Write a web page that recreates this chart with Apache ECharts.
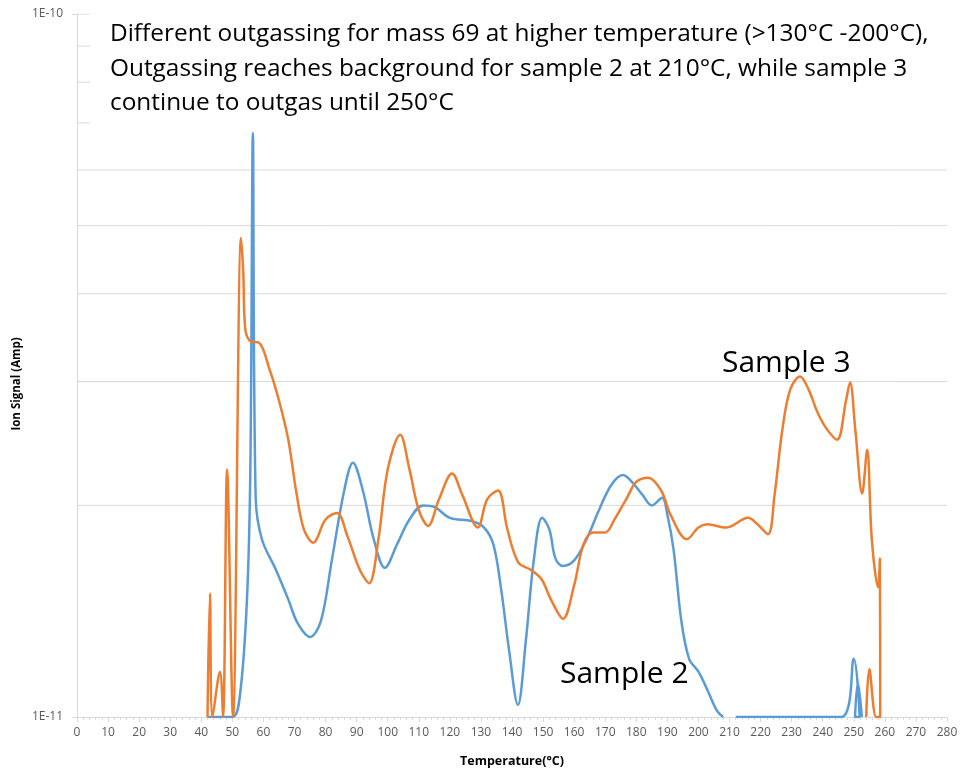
<!DOCTYPE html>
<html>
<head>
<meta charset="utf-8">
<script src="https://cdn.jsdelivr.net/npm/echarts@6/dist/echarts.min.js"></script>
<style>
html,body{margin:0;padding:0;background:#fff;}
#chart{width:960px;height:771px;}
</style>
</head>
<body>
<div id="chart"></div>
<script>
// ---- data ----
const xTicks = [0,10,20,30,40,50,60,70,80,90,100,110,120,130,140,150,160,170,180,190,200,210,220,230,240,250,260,270,280];
const yTickLabels = ['1E-11','1E-10'];
const gridValues = [2e-11,3e-11,4e-11,5e-11,6e-11,7e-11,8e-11,9e-11,1e-10];

const sample2Temp = [42,50,52.5,54.7,55.8,56.6,57.5,59.5,64,68,71,75,78.5,82,86,88.8,92,95.5,99.1,103,107,111.4,115,120,127,131,134,136.5,139,141.9,144.5,147,149.7,152,154,156.4,160,164,168,172,175.7,179,182,185,188.3,190,192,194.5,197,200,203,206,208,null,212,246,250,251.9,250.4,251.3,252.6];
const sample2Signal = [1.0e-11,1.0e-11,1.08e-11,1.47e-11,2.27e-11,6.77e-11,2.05e-11,1.79e-11,1.62e-11,1.47e-11,1.36e-11,1.30e-11,1.37e-11,1.67e-11,2.10e-11,2.30e-11,2.10e-11,1.79e-11,1.63e-11,1.76e-11,1.91e-11,2.00e-11,1.99e-11,1.92e-11,1.90e-11,1.86e-11,1.76e-11,1.52e-11,1.25e-11,1.04e-11,1.29e-11,1.67e-11,1.92e-11,1.85e-11,1.68e-11,1.64e-11,1.67e-11,1.79e-11,1.97e-11,2.14e-11,2.21e-11,2.15e-11,2.07e-11,2.00e-11,2.05e-11,1.94e-11,1.73e-11,1.37e-11,1.21e-11,1.16e-11,1.09e-11,1.02e-11,1.0e-11,null,1.0e-11,1.0e-11,1.21e-11,1.0e-11,1.0e-11,1.12e-11,1.0e-11];

const sample3Temp = [42,42.8,43.6,46,47,48.3,50.2,52.8,53.5,54.2,56,58.5,62,65,68,70.5,73,76,80,83.7,87,91,94,97,100,104,107,110,113,116.5,120.7,124,129,132,135.5,138.5,142,146,149.5,152.5,156.4,160,163,166,170,173,177,180,183.8,188,191,196.3,200,202.8,209,216,219,222.4,224.5,227,229.5,232.7,235.5,238.2,241,244.6,247.5,248.8,250.5,252.7,254.3,255.8,257.8,258.4,258.5,257.2,255,254];
const sample3Signal = [1.0e-11,1.50e-11,1.0e-11,1.16e-11,1.0e-11,2.25e-11,1.0e-11,4.80e-11,4.3e-11,3.55e-11,3.42e-11,3.41e-11,3.12e-11,2.82e-11,2.48e-11,2.10e-11,1.85e-11,1.77e-11,1.91e-11,1.95e-11,1.81e-11,1.62e-11,1.55e-11,1.79e-11,2.25e-11,2.52e-11,2.25e-11,1.97e-11,1.87e-11,2.04e-11,2.22e-11,2.07e-11,1.86e-11,2.04e-11,2.10e-11,1.85e-11,1.66e-11,1.62e-11,1.57e-11,1.47e-11,1.38e-11,1.54e-11,1.76e-11,1.83e-11,1.83e-11,1.91e-11,2.05e-11,2.16e-11,2.19e-11,2.10e-11,1.94e-11,1.79e-11,1.86e-11,1.88e-11,1.86e-11,1.92e-11,1.88e-11,1.82e-11,2.07e-11,2.56e-11,2.92e-11,3.05e-11,2.92e-11,2.72e-11,2.58e-11,2.48e-11,2.82e-11,2.99e-11,2.56e-11,2.08e-11,2.40e-11,1.79e-11,1.53e-11,1.68e-11,1.0e-11,1.0e-11,1.17e-11,1.0e-11];

const titleLines = [
  'Different outgassing for mass 69 at higher temperature (>130°C -200°C),',
  'Outgassing reaches background for sample 2 at 210°C, while sample 3',
  'continue to outgas until 250°C'
];
const seriesLabels = ['Sample 2','Sample 3'];

function pairs(xs, ys){ return xs.map((x,i)=> (x===null||ys[i]===null) ? [null,null] : [x, ys[i]]); }

// horizontal gridlines as broken line segments across the x range, placed by the y scale
const gridData = [];
gridValues.forEach(v => { gridData.push([0, v], [280, v], [null, null]); });

const chart = echarts.init(document.getElementById('chart'));
const labelFont = '"Open Sans", sans-serif';
chart.setOption({
  animation:false,
  backgroundColor:'#fff',
  grid:{left:77,right:13,top:14,bottom:54,containLabel:false,outerBoundsMode:'none'},
  xAxis:{
    type:'value',min:0,max:280,interval:10,
    name:'Temperature(°C)',nameLocation:'middle',nameGap:38,
    nameTextStyle:{fontFamily:labelFont,fontWeight:'bold',fontSize:12.5,color:'#000'},
    axisLine:{show:true,lineStyle:{color:'#d9d9d9',width:1}},
    axisTick:{show:true,length:5,lineStyle:{color:'#d9d9d9'}},
    minorTick:{show:true,splitNumber:5,length:3,lineStyle:{color:'#d9d9d9'}},
    axisLabel:{color:'#595959',fontFamily:labelFont,fontSize:12,margin:10,
      formatter:v=> xTicks.indexOf(v)>=0 ? String(v) : ''},
    splitLine:{show:false}
  },
  yAxis:{
    type:'log',logBase:10,min:1e-11,max:1e-10,
    axisLine:{show:true,lineStyle:{color:'#d9d9d9',width:1}},
    axisTick:{show:true,length:5,lineStyle:{color:'#d9d9d9'}},
    axisLabel:{color:'#595959',fontFamily:labelFont,fontSize:12,margin:14,
      formatter:v=>{ const s = Number(v).toExponential(0).toUpperCase().replace('+',''); return yTickLabels.indexOf(s)>=0? s : ''; }},
    splitLine:{show:false}
  },
  series:[
    {type:'line',data:gridData,z:1,silent:true,symbol:'none',showSymbol:false,
     connectNulls:false,smooth:false,clip:true,
     lineStyle:{color:'#d9d9d9',width:1}},
    {name:seriesLabels[0],type:'line',data:pairs(sample2Temp,sample2Signal),
     smooth:0.35,showSymbol:false,symbol:'none',connectNulls:false,z:3,
     lineStyle:{color:'#5B9BD5',width:2.5},itemStyle:{color:'#5B9BD5'}},
    {name:seriesLabels[1],type:'line',data:pairs(sample3Temp,sample3Signal),
     smooth:0.35,showSymbol:false,symbol:'none',connectNulls:false,z:4,
     lineStyle:{color:'#ED7D31',width:2.5},itemStyle:{color:'#ED7D31'}}
  ],
  graphic:[
    {type:'rect',z:100,shape:{x:90,y:0,width:870,height:127},style:{fill:'#fff'}},
    {type:'text',z:101,left:110,top:17,style:{text:titleLines.join('\n'),fontFamily:labelFont,fontSize:24.4,lineHeight:34.5,fill:'#000'}},
    {type:'text',z:101,left:722,top:348,style:{text:seriesLabels[1],fontFamily:labelFont,fontSize:30,fill:'#000'}},
    {type:'text',z:101,left:560,top:659,style:{text:seriesLabels[0],fontFamily:labelFont,fontSize:30,fill:'#000'}},
    {type:'text',z:101,x:17,y:384,rotation:Math.PI/2,
     style:{text:'Ion Signal (Amp)',fontFamily:labelFont,fontWeight:'bold',fontSize:11.5,fill:'#000',align:'center',verticalAlign:'middle'}}
  ]
});
</script>
</body>
</html>
